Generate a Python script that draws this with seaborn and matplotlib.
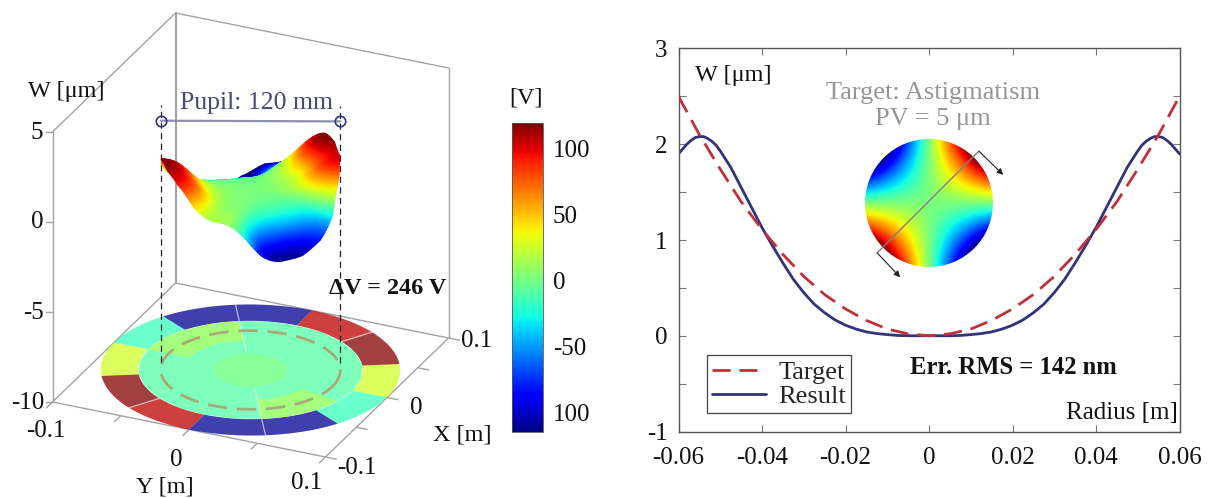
import numpy as np
import pandas as pd
import matplotlib
matplotlib.use("Agg")
import matplotlib.pyplot as plt
import matplotlib.tri as mtri
import seaborn as sns
from matplotlib.collections import PolyCollection
from matplotlib.colors import Normalize
from matplotlib.cm import ScalarMappable
from matplotlib.patches import Circle

# Left panel: mirror surface in (azimuth, radius), azimuth 0..345 deg in 15 deg steps
wave_azimuth = [0, 15, 30, 45, 60, 75, 90, 105, 120, 135, 150, 165,
                180, 195, 210, 225, 240, 255, 270, 285, 300, 315, 330, 345]
wave_radius = [0.015, 0.03, 0.04, 0.05, 0.06]
wave_r015 = [-.02, .04, .05, .06, .06, .03, 0, -.05, -.06, -.06, -.05, -.02,
             0, .03, .06, .06, .05, .02, .01, 0, -.04, -.06, -.05, -.04]
wave_r030 = [-.11, .26, .37, .42, .42, .21, -.01, -.33, -.42, -.42, -.33, -.18,
             0, .22, .42, .42, .34, .16, .05, -.02, -.31, -.42, -.40, -.31]
wave_r040 = [-.28, .66, .94, 1.05, 1.05, .52, -.03, -.83, -1.05, -1.05, -.83, -.44,
             0, .55, 1.05, 1.05, .85, .40, .12, -.06, -.77, -1.05, -1.01, -.77]
wave_r050 = [-.45, 1.08, 1.53, 1.71, 1.71, .86, -.15, -1.00, -1.71, -1.71, -1.35, -.72,
             0, .90, 1.71, 1.71, 1.40, .65, .20, -.09, -1.26, -1.71, -1.65, -1.26]
wave_r060 = [-.50, 1.20, 1.70, 1.90, 1.90, .95, -.30, -.70, -1.40, -1.90, -1.50, -.80,
             0, 1.00, 1.90, 1.90, 1.55, .72, .22, -.10, -1.40, -1.90, -1.83, -1.40]
# the back rim reads darker than its height
rim_colour = [-.50, 1.20, 1.70, 1.90, 1.90, .95, -1.10, -1.95, -1.95, -1.90, -1.50, -.80,
              0, 1.00, 1.90, 1.90, 1.55, .72, .22, -.10, -1.40, -1.90, -1.83, -1.40]

# Electrode voltages on the floor (from azimuth 0)
outer_volts = [26, 119, 107, -110, -110, -16, 26, 119, 107, -110, -110, -16]
disc_volts = [-9]
patch_volts = [35, 35]
patch_spans = [(120, 180), (300, 345)]
centre_volts = [12]

# Colorbar
cbar_ticks = [100, 50, 0, -50, -100]
cbar_labels = ["100", "50", "0", "-50", "100"]

# Right panel profiles
radius_target = [-.06, -.055, -.05, -.045, -.04, -.035, -.03, -.025, -.02, -.015, -.01, -.005, 0,
                 .005, .01, .015, .02, .025, .03, .035, .04, .045, .05, .055, .06]
w_target = [2.5, 2.1, 1.74, 1.4, 1.11, .85, .62, .43, .28, .16, .07, .02, 0,
            .02, .07, .16, .28, .43, .62, .85, 1.11, 1.4, 1.74, 2.1, 2.5]
radius_right = [.0025, .005, .0075, .01, .0125, .015, .0175, .02, .0225, .025, .0275, .03, .0325, .035,
                .0375, .04, .0425, .045, .0475, .05, .051, .052, .053, .054, .055, .056, .057, .058, .059, .06]
w_right = [0, 0, .003, .012, .023, .04, .07, .11, .165, .24, .33, .45, .59, .76,
           .94, 1.13, 1.34, 1.55, 1.76, 1.93, 1.99, 2.03, 2.06, 2.08, 2.08, 2.07, 2.04, 2.0, 1.95, 1.9]
radius_result = [-r for r in radius_right[::-1]] + [0] + radius_right
w_result = w_right[::-1] + [0] + w_right

# Inset: astigmatism target on a coarse grid
inset_x = [-1, -2 / 3, -1 / 3, 0, 1 / 3, 2 / 3, 1]
inset_w = [[-2.0, -1.33, -.67, 0, .67, 1.33, 2.0],
           [-1.33, -.89, -.44, 0, .44, .89, 1.33],
           [-.67, -.44, -.22, 0, .22, .44, .67],
           [0, 0, 0, 0, 0, 0, 0],
           [.67, .44, .22, 0, -.22, -.44, -.67],
           [1.33, .89, .44, 0, -.44, -.89, -1.33],
           [2.0, 1.33, .67, 0, -.67, -1.33, -2.0]]

NAVY = "#33337a"
RED = "#c0303a"
GRID = "#a3a3a3"
FS = 18
FL = 17.5

sns.set_theme(style="white")
plt.rcParams["font.family"] = ["Liberation Serif", "DejaVu Serif"]

W, H = 1209, 498
fig = plt.figure(figsize=(W / 100, H / 100), dpi=100)

# Canvas in pixels for the 3D-looking panel
ax = fig.add_axes([0, 0, 1, 1])
ax.set_xlim(0, W)
ax.set_ylim(H, 0)
ax.axis("off")


def proj(x, y, z=-10):
    # orthographic view
    x, y, z = np.asarray(x, float), np.asarray(y, float), np.asarray(z, float)
    return 250.5 + 615 * x + 1365 * y, 370 - 595 * x + 275 * y - 18 * (z + 10)


def line3d(x, y, z, **kw):
    px, py = proj(x, y, z)
    ax.plot(px, py, **kw)


# box
for xs, ys, zs in [([-.1, -.1], [-.1, -.1], [-10, 5]),
                   ([.1, .1], [.1, .1], [-10, 5]),
                   ([-.1, .1, .1], [-.1, -.1, .1], [5, 5, 5]),
                   ([-.1, .1, .1, -.1, -.1], [-.1, -.1, .1, .1, -.1], [-10] * 5)]:
    line3d(xs, ys, zs, color=GRID, lw=1, zorder=1)
line3d([.1, .1], [-.1, -.1], [-10, 5], color=GRID, lw=1.5, zorder=1)

# axis ticks
for z in [5, 0, -5, -10]:
    px, py = proj(-.1, -.1, z)
    ax.plot([px - 7, px], [py, py], color=GRID, lw=1, zorder=1)
for t in [-.1, -.05, 0, .05, .1]:
    line3d([-.1, -.11], [t, t], [-10, -10], color=GRID, lw=1, zorder=1)
    line3d([t, t], [.1, .108], [-10, -10], color=GRID, lw=1, zorder=1)


# floor electrodes
def sector(r0, r1, a0, a1):
    a = np.radians(np.linspace(a0, a1, 25))
    xs = np.r_[r1 * np.sin(a), r0 * np.sin(a[::-1])]
    ys = np.r_[r1 * np.cos(a), r0 * np.cos(a[::-1])]
    return np.column_stack(proj(xs, ys))


norm = Normalize(-114.5, 119.5)
polys = [sector(.075, .1, i * 30, i * 30 + 30) for i in range(len(outer_volts))]
polys.append(sector(0, .075, 0, 360))
floor = PolyCollection(polys, array=np.array(outer_volts + disc_volts), cmap="jet", norm=norm,
                       alpha=.75, edgecolors="none", zorder=2)
ax.add_collection(floor)

# tinted patches of the inner disc
patches = [sector(.045, .075, a0, a1) for a0, a1 in patch_spans]
patches.append(sector(0, .025, 0, 360))
tint = PolyCollection(patches, array=np.array(patch_volts + centre_volts), cmap="jet", norm=norm,
                      alpha=.35, edgecolors="none", zorder=2.5)
ax.add_collection(tint)

# white seams between some electrodes
for a, r0 in [(60, .075), (240, .075), (120, .03), (300, .03)]:
    s, c = np.sin(np.radians(a)), np.cos(np.radians(a))
    line3d([r0 * s, .1 * s], [r0 * c, .1 * c], [-10, -10], color="white", lw=.9, alpha=.6, zorder=3)

# pupil ring on the floor
a = np.radians(np.linspace(0, 360, 200))
line3d(.06 * np.sin(a), .06 * np.cos(a), np.full(200, -10.), color="#a8a878", lw=2,
       dashes=(7, 3.5), zorder=3)

# pupil marker and its projection lines
pupil_x = [-.0247, .0247]
pupil_y = [-.0547, .0547]
pupil_z = [3.83, 3.83]
for x, y in zip(pupil_x, pupil_y):
    line3d([x, x], [y, y], [-9.6, 4.7], color="#222222", lw=.9, dashes=(5, 3.5), zorder=4)
line3d(pupil_x, pupil_y, pupil_z, color="#8f8fae", lw=1.6, zorder=4)
line3d(pupil_x, pupil_y, pupil_z, color=NAVY, lw=0, marker="o", ms=7.5, mfc="none", mew=1.2, zorder=5)

# wavefront surface, triangles painted back to front
rings = np.array([wave_r015, wave_r030, wave_r040, wave_r050, wave_r060])
az = np.radians(wave_azimuth)
sx = np.r_[0., np.outer(wave_radius, np.sin(az)).ravel()]
sy = np.r_[0., np.outer(wave_radius, np.cos(az)).ravel()]
sz = np.r_[0., rings.ravel()]
sc = np.r_[0., rings[:-1].ravel(), rim_colour]
n = len(az)
tris = [[0, 1 + j, 1 + (j + 1) % n] for j in range(n)]
for i in range(len(wave_radius) - 1):
    for j in range(n):
        p, q = 1 + i * n + j, 1 + i * n + (j + 1) % n
        tris += [[p, q, p + n], [q, q + n, p + n]]
mesh = mtri.Triangulation(sx, sy, np.array(tris))
refiner = mtri.UniformTriRefiner(mesh)
fine, fine_z = refiner.refine_field(sz, mtri.CubicTriInterpolator(mesh, sz), subdiv=3)
_, fine_c = refiner.refine_field(sc, mtri.CubicTriInterpolator(mesh, sc), subdiv=3)
tri_idx = fine.triangles
depth = (567 * fine.y - 1228 * fine.x + 8.8 * fine_z)[tri_idx].mean(axis=1)
px, py = proj(fine.x, fine.y, fine_z)
ax.tripcolor(px, py, tri_idx[np.argsort(depth)], fine_c, shading="gouraud", cmap="jet", vmin=-2, vmax=2, zorder=6)

# texts of the left panel
txt = dict(fontsize=FS, color="#111111", ha="center", va="center")
lab = dict(txt, fontsize=FL)
for s, x, y in [("5", 37, 133), ("0", 37, 222), ("-5", 34, 313), ("-10", 28, 403),
                ("-0.1", 46, 431), ("0", 176, 460), ("0.1", 307, 483),
                ("0.1", 477, 341), ("0", 416, 408), ("-0.1", 357, 468)]:
    ax.text(x, y, s, **txt)
for s, x, y in [("W [μm]", 66, 91), ("Y [m]", 165, 487), ("X [m]", 462, 435), ("[V]", 526, 98), ("W [μm]", 733, 75)]:
    ax.text(x, y, s, **lab)
ax.text(257, 103, "Pupil: 120 mm", fontsize=18.5, color="#48487c", ha="center", va="center")
ax.text(388, 288, "ΔV = 246 V", fontsize=17.4, fontweight="bold", color="#111111", ha="center", va="center")

# colorbar
cax = fig.add_axes([511.5 / W, (H - 432) / H, 31 / W, 309 / H])
cb = fig.colorbar(ScalarMappable(norm=norm, cmap="jet"), cax=cax)
cb.set_ticks(cbar_ticks)
cb.set_ticklabels(cbar_labels)
cb.ax.tick_params(length=0, labelsize=FS, pad=7.5, labelcolor="#111111")
cb.outline.set_edgecolor("#555555")
cb.outline.set_linewidth(.6)

# right panel: radial profile
rax = fig.add_axes([678.5 / W, (H - 431.5) / H, 501 / W, 383 / H])
rax.patch.set_alpha(0)
df_target = pd.DataFrame({"r": radius_target, "w": w_target})
df_result = pd.DataFrame({"r": radius_result, "w": w_result})
sns.lineplot(data=df_target, x="r", y="w", ax=rax, color=RED, lw=2, dashes=(6.5, 3.2),
             label="Target", zorder=3, errorbar=None)
sns.lineplot(data=df_result, x="r", y="w", ax=rax, color=NAVY, lw=2, label="Result", zorder=2, errorbar=None)
rax.set_xlim(-.06, .06)
rax.set_ylim(-1, 3)
rax.set_xlabel("")
rax.set_ylabel("")
rax.set_xticks([-.06, -.04, -.02, 0, .02, .04, .06])
rax.set_xticklabels(["-0.06", "-0.04", "-0.02", "0", "0.02", "0.04", "0.06"])
rax.set_yticks([-1, -.5, 0, .5, 1, 1.5, 2, 2.5, 3])
rax.set_yticklabels(["-1", "", "0", "", "1", "", "2", "", "3"])
rax.tick_params(direction="in", length=5, width=.8, color="#777777", labelsize=FS, labelcolor="#111111",
                top=True, right=True, bottom=True, left=True)
rax.tick_params(axis="x", pad=11)
rax.tick_params(axis="y", pad=8)
for sp in rax.spines.values():
    sp.set_color("#555555")
    sp.set_linewidth(1)
leg = rax.legend(loc="lower left", bbox_to_anchor=(.057, .0475), fontsize=19, frameon=True, fancybox=False,
                 framealpha=1, edgecolor="#444444", borderpad=.2, labelspacing=.02, handlelength=2.05,
                 handletextpad=.45, borderaxespad=0)
leg.get_frame().set_linewidth(.9)
ax.text(933, 93, "Target: Astigmatism", fontsize=19, color="#969696", ha="center", va="center")
ax.text(933, 119, "PV = 5 μm", fontsize=19, color="#969696", ha="center", va="center")
ax.text(1013, 367, "Err. RMS = 142 nm", fontsize=17.7, fontweight="bold", color="#111111", ha="center", va="center")
ax.text(1178, 413, "Radius [m]", fontsize=18, color="#111111", ha="right", va="center")

# inset disc with the target map
iax = fig.add_axes([(929 - 64) / W, (H - 203 - 64) / H, 128 / W, 128 / H])
half = (inset_x[1] - inset_x[0]) / 2
im = iax.imshow(inset_w, extent=[inset_x[0] - half, inset_x[-1] + half, inset_x[0] - half, inset_x[-1] + half],
                cmap="jet", vmin=-1, vmax=1, interpolation="bicubic", origin="upper")
im.set_clip_path(Circle((0, 0), 1, transform=iax.transData))
iax.set_xlim(-1, 1)
iax.set_ylim(-1, 1)
iax.axis("off")
iax.plot([-.81, .78], [-.78, .81], color="#808080", lw=1, clip_on=False)
for start, end in [((.78, .81), (1.16, .44)), ((-.81, -.78), (-.45, -1.16))]:
    iax.annotate("", xy=end, xytext=start, annotation_clip=False,
                 arrowprops=dict(arrowstyle="-|>", color="#222222", lw=.8, mutation_scale=9,
                                 shrinkA=0, shrinkB=0))

fig.savefig("out.png", dpi=100)
